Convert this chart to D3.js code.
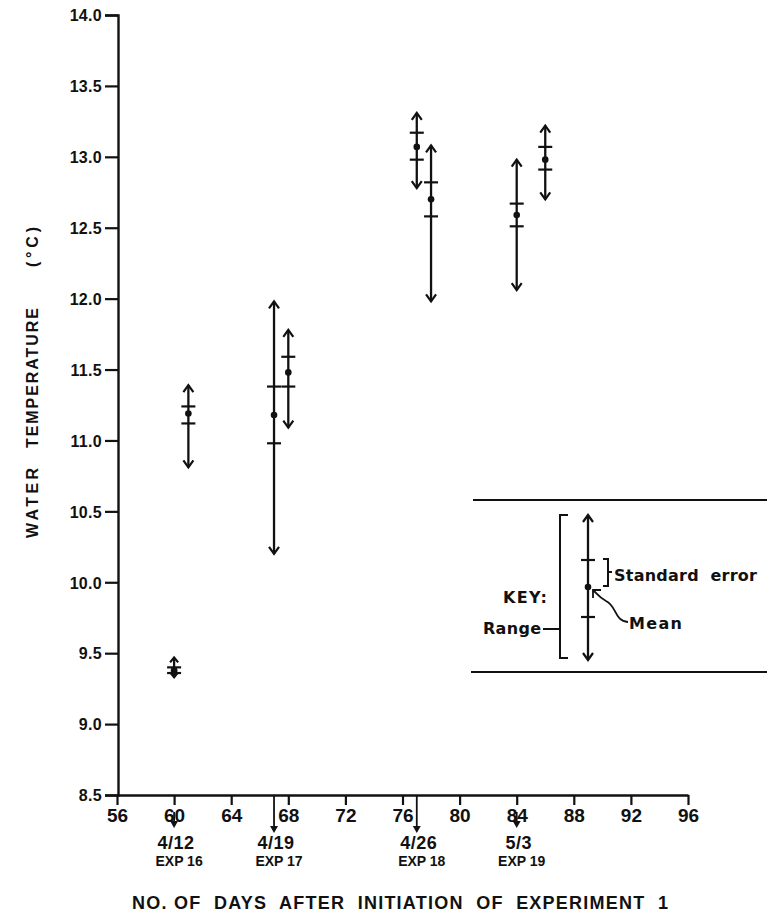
<!DOCTYPE html>
<html><head><meta charset="utf-8">
<script src="https://cdn.jsdelivr.net/npm/d3@7"></script>
<style>
html,body{margin:0;padding:0;background:#fff;}
svg text{font-family:"Liberation Sans",Arial,sans-serif;font-weight:bold;fill:#111;white-space:pre;}
svg text.k{font-family:"DejaVu Sans",sans-serif;}
</style></head>
<body>
<svg id="c" width="767" height="917"></svg>
<script>
// ---- data ----
const days      = [60,    61,    67,    68,    77,    78,    84,    86];
const means     = [9.38,  11.19, 11.18, 11.48, 13.07, 12.70, 12.59, 12.98];
const seLow     = [9.36,  11.12, 10.98, 11.38, 12.98, 12.58, 12.51, 12.91];
const seHigh    = [9.40,  11.24, 11.38, 11.59, 13.17, 12.82, 12.67, 13.07];
const rangeLow  = [9.33,  10.81, 10.20, 11.09, 12.78, 11.98, 12.06, 12.70];
const rangeHigh = [9.47,  11.39, 11.98, 11.78, 13.31, 13.08, 12.98, 13.22];
const xTicks = [56,60,64,68,72,76,80,84,88,92,96];
const yTicks = [8.5,9.0,9.5,10.0,10.5,11.0,11.5,12.0,12.5,13.0,13.5,14.0];
const expDays   = [60, 67, 77, 84];
const expDates  = ["4/12","4/19","4/26","5/3"];
const expNames  = ["EXP 16","EXP 17","EXP 18","EXP 19"];
const expLong   = [false, true, true, false];
const yTitleWords = ["WATER","TEMPERATURE","(°C)"];

const svg = d3.select("#c");
const x = d3.scaleLinear().domain([56,96]).range([117,688]);
const y = d3.scaleLinear().domain([8.5,14]).range([795,15]);
const ink = "#111";

// axes
const yAxis = d3.axisLeft(y).tickValues(yTicks).tickSize(13).tickPadding(3).tickFormat(d3.format(".1f"));
const gy = svg.append("g").attr("transform","translate(118,0)").call(yAxis);
gy.select(".domain").attr("stroke",ink).attr("stroke-width",2.4);
gy.selectAll(".tick line").attr("stroke",ink).attr("stroke-width",2.2);
gy.selectAll(".tick text").style("font-size","16px").style("letter-spacing","0.3px").attr("fill",ink).attr("dy","0.36em");

const xAxis = d3.axisBottom(x).tickValues(xTicks).tickSize(10).tickPadding(4).tickSizeOuter(0);
const gx = svg.append("g").attr("transform","translate(0,795)").call(xAxis);
gx.select(".domain").attr("stroke",ink).attr("stroke-width",2.4);
gx.selectAll(".tick line").attr("stroke",ink).attr("stroke-width",2.2);
gx.selectAll(".tick text").style("font-size","19px").attr("fill",ink);

// error glyph
function glyph(g, cx, yTop, yBot, ySe1, ySe2, yMean, small){
  const ah = small ? 5 : 7, aw = small ? 4 : 5;
  g.append("line").attr("x1",cx).attr("x2",cx).attr("y1",yTop).attr("y2",yBot)
    .attr("stroke",ink).attr("stroke-width",2.3);
  g.append("path").attr("d",`M${cx-aw},${yTop+ah}L${cx},${yTop}L${cx+aw},${yTop+ah}`)
    .attr("fill","none").attr("stroke",ink).attr("stroke-width",2.2);
  g.append("path").attr("d",`M${cx-aw},${yBot-ah}L${cx},${yBot}L${cx+aw},${yBot-ah}`)
    .attr("fill","none").attr("stroke",ink).attr("stroke-width",2.2);
  [ySe1,ySe2].forEach(v=>g.append("line").attr("x1",cx-7).attr("x2",cx+7).attr("y1",v).attr("y2",v)
    .attr("stroke",ink).attr("stroke-width",2.2));
  g.append("circle").attr("cx",cx).attr("cy",yMean).attr("r",3.3).attr("fill",ink);
}
const gd = svg.append("g");
days.forEach((d,i)=>{
  glyph(gd, x(d), y(rangeHigh[i]), y(rangeLow[i]), y(seHigh[i]), y(seLow[i]), y(means[i]), i===0);
});

// experiment date arrows
expDays.forEach((d,i)=>{
  const cx = x(d);
  const y1 = expLong[i] ? 795 : 812, y2 = expLong[i] ? 833 : 828;
  svg.append("line").attr("x1",cx).attr("x2",cx).attr("y1",y1).attr("y2",y2-6).attr("stroke",ink).attr("stroke-width",1.8);
  svg.append("path").attr("d",`M${cx-4},${y2-7}L${cx+4},${y2-7}L${cx},${y2}Z`).attr("fill",ink);
  svg.append("text").attr("x",cx+2).attr("y",849).attr("text-anchor","middle").style("font-size","18px").style("letter-spacing","0.5px").text(expDates[i]);
  svg.append("text").attr("x",cx+5).attr("y",866).attr("text-anchor","middle").style("font-size","14px").text(expNames[i]);
});

// titles
svg.append("text").attr("x",132).attr("y",909).attr("textLength",536).attr("lengthAdjust","spacing")
  .style("font-size","18px").text("NO. OF  DAYS  AFTER  INITIATION  OF  EXPERIMENT  1");
const yT = [[538,70],[448,140],[267,40]];
yTitleWords.forEach((w,i)=>{
  svg.append("text").attr("transform",`translate(38,${yT[i][0]}) rotate(-90)`)
    .attr("textLength",yT[i][1]).attr("lengthAdjust","spacing")
    .style("font-size","16px").text(w);
});

// key
const gk = svg.append("g");
gk.append("line").attr("x1",473).attr("x2",767).attr("y1",500).attr("y2",500).attr("stroke",ink).attr("stroke-width",2);
gk.append("line").attr("x1",471).attr("x2",767).attr("y1",672).attr("y2",672).attr("stroke",ink).attr("stroke-width",2);
gk.append("path").attr("d","M568,515L560,515L560,658L568,658").attr("fill","none").attr("stroke",ink).attr("stroke-width",2);
gk.append("line").attr("x1",543).attr("x2",560).attr("y1",629).attr("y2",629).attr("stroke",ink).attr("stroke-width",2);
glyph(gk, 588, 515, 660, 560, 617, 587, false);
gk.append("path").attr("d","M603,559L608,559L608,586L603,586M608,572L612,572").attr("fill","none").attr("stroke",ink).attr("stroke-width",2);
gk.append("path").attr("d","M628,622C614,621 617,606 606,601C600,598 598,595 593,590")
  .attr("fill","none").attr("stroke",ink).attr("stroke-width",1.8);
gk.append("path").attr("d","M593,598L593,590L601,590").attr("fill","none").attr("stroke",ink).attr("stroke-width",1.8);
gk.append("text").attr("class","k").attr("x",614).attr("y",581).attr("textLength",143).attr("lengthAdjust","spacing").style("font-size","16px").text("Standard  error");
gk.append("text").attr("class","k").attr("x",629).attr("y",629).attr("textLength",53).attr("lengthAdjust","spacing").style("font-size","16px").text("Mean");
gk.append("text").attr("class","k").attr("x",503).attr("y",603).attr("textLength",44).attr("lengthAdjust","spacing").style("font-size","16px").text("KEY:");
gk.append("text").attr("class","k").attr("x",483).attr("y",634).attr("textLength",58).attr("lengthAdjust","spacing").style("font-size","16px").text("Range");
</script>
</body></html>
